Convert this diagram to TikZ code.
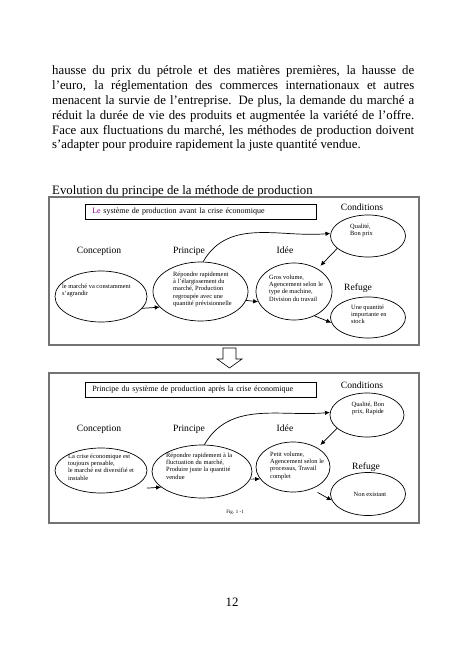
\documentclass[tikz,border=0pt]{standalone}
\usepackage{fontspec}
\setmainfont{Liberation Serif}
\usetikzlibrary{shapes.geometric, arrows.meta}
\definecolor{lepurple}{RGB}{128, 0, 128}

\begin{document}
\begin{tikzpicture}[x=1pt, y=-1pt,
  para/.style={anchor=base west, inner sep=0, font=\fontsize{12.8}{14.8}\selectfont},
  oval/.style={draw, ellipse, inner sep=0, line width=0.7pt},
  otext/.style={anchor=north west, inner sep=0, align=left, font=\fontsize{6.4}{7.3}\selectfont},
  lbl/.style={inner sep=0, font=\fontsize{9.6}{11}\selectfont},
  headbox/.style={draw, line width=0.6pt, anchor=north west, text width=217pt, inner xsep=7pt, inner ysep=0pt, minimum height=15pt, align=left, font=\fontsize{8}{9}\selectfont},
  frame/.style={draw=black!55, line width=1.1pt},
  arr/.style={-{Latex[length=5pt, width=4.5pt]}, line width=0.7pt}]

\fill[white] (0, 0) rectangle (455, 647);
\useasboundingbox (0, 0) rectangle (455, 647);

\node[para] (l1) at (52, 75) {\makebox[362pt][s]{hausse du prix du pétrole et des matières premières, la hausse de}};
\node[para] (l2) at (52, 89.8) {\makebox[362pt][s]{l’euro, la réglementation des commerces internationaux et autres}};
\node[para] (l3) at (52, 104.6) {\makebox[362pt][s]{menacent la survie de l’entreprise. De plus, la demande du marché a}};
\node[para] (l4) at (52, 119.4) {\makebox[362pt][s]{réduit la durée de vie des produits et augmentée la variété de l’offre.}};
\node[para] (l5) at (52, 134.2) {\makebox[362pt][s]{Face aux fluctuations du marché, les méthodes de production doivent}};
\node[para] (l6) at (52, 149) {s’adapter pour produire rapidement la juste quantité vendue.};

\node[para] (title) at (52, 194) {Evolution du principe de la méthode de production};

\draw[frame] (49, 197) rectangle (419, 345);
\draw[frame] (49, 373) rectangle (419, 523);

\node[headbox] (hdr1) at (85, 204) {\textcolor{lepurple}{Le} système de production avant la crise économique};
\node[headbox] (hdr2) at (85, 382) {Principe du système de production après la crise économique};

\node[lbl] (conclbl1) at (99, 251) {Conception};
\node[lbl] (princlbl1) at (189, 251) {Principe};
\node[lbl] (ideelbl1) at (285, 250) {Idée};
\node[lbl] (condlbl1) at (362, 207) {Conditions};
\node[lbl] (reflbl1) at (358, 288) {Refuge};

\node[oval, minimum width=92, minimum height=51] (conc1) at (101, 296.5) {};
\node[oval, minimum width=95, minimum height=59] (princ1) at (200.5, 291.5) {};
\node[oval, minimum width=76, minimum height=57] (idee1) at (294, 291.5) {};
\node[oval, minimum width=75, minimum height=42] (cond1) at (368, 236) {};
\node[oval, minimum width=75, minimum height=41] (ref1) at (368, 317.5) {};

\node[otext] (conc1t) at (62, 283.5) {le marché va constamment\\s’agrandir};
\node[otext] (princ1t) at (173, 271.5) {Répondre rapidement\\à l’élargissement du\\marché, Production\\regroupée avec une\\quantité prévisionnelle};
\node[otext] (idee1t) at (269, 274.5) {Gros volume,\\Agencement selon le\\type de machine,\\Division du travail};
\node[otext] (cond1t) at (350, 223.5) {Qualité,\\Bon prix};
\node[otext] (ref1t) at (351, 304.5) {Une quantité\\importante en\\stock};

\draw[arr] (conc1.-16) -- (princ1.201);
\draw[arr] (princ1.-11) -- (idee1.196);
\draw[arr] (princ1.85) to[out=60, in=185] (cond1.176);
\draw[arr, shorten >=4pt] (cond1.202) -- (idee1.44);
\draw[arr] (idee1.-50) -- (ref1.188);

\draw[line width=0.6pt] (223, 348) -- (236, 348) -- (236, 359) -- (242, 359) -- (229.5, 368) -- (217, 359) -- (223, 359) -- cycle;

\node[lbl] (conclbl2) at (99, 429) {Conception};
\node[lbl] (princlbl2) at (189, 429) {Principe};
\node[lbl] (ideelbl2) at (285, 428) {Idée};
\node[lbl] (condlbl2) at (362, 385) {Conditions};
\node[lbl] (reflbl2) at (366, 467) {Refuge};

\node[oval, minimum width=92, minimum height=45] (conc2) at (101, 470.5) {};
\node[oval, minimum width=100, minimum height=53] (princ2) at (202, 471.5) {};
\node[oval, minimum width=74, minimum height=50] (idee2) at (293, 467) {};
\node[oval, minimum width=74, minimum height=44] (cond2) at (367, 415) {};
\node[oval, minimum width=75, minimum height=43] (ref2) at (368, 494) {};

\node[otext] (conc2t) at (68, 453.5) {La crise économique est\\toujours pensable,\\le marché est diversifié et\\instable};
\node[otext] (princ2t) at (166, 452.5) {Répondre rapidement à la\\fluctuation du marché,\\Produire juste la quantité\\vendue};
\node[otext] (idee2t) at (270, 451.5) {Petit volume,\\Agencement selon le\\processus, Travail\\complet};
\node[otext, anchor=north, align=center] (cond2t) at (368, 401.5) {Qualité, Bon\\prix, Rapide};
\node[otext, anchor=center] (ref2t) at (370, 494) {Non existant};

\draw[arr, shorten <=20pt] (conc2.-36) -- (princ2.201);
\draw[arr] (princ2.-9) -- (idee2.200);
\draw[arr] (princ2.85) to[out=60, in=185] (cond2.176);
\draw[arr, shorten >=4pt] (cond2.204) -- (idee2.38);
\draw[arr, shorten <=7pt] (idee2.-50) -- (ref2.190);

\node[inner sep=0, font=\fontsize{5}{6}\selectfont] (fig) at (235, 512) {Fig. 1 -1};
\node[inner sep=0, font=\fontsize{12.8}{14}\selectfont] (pnum) at (232, 602) {12};

\end{tikzpicture}
\end{document}
